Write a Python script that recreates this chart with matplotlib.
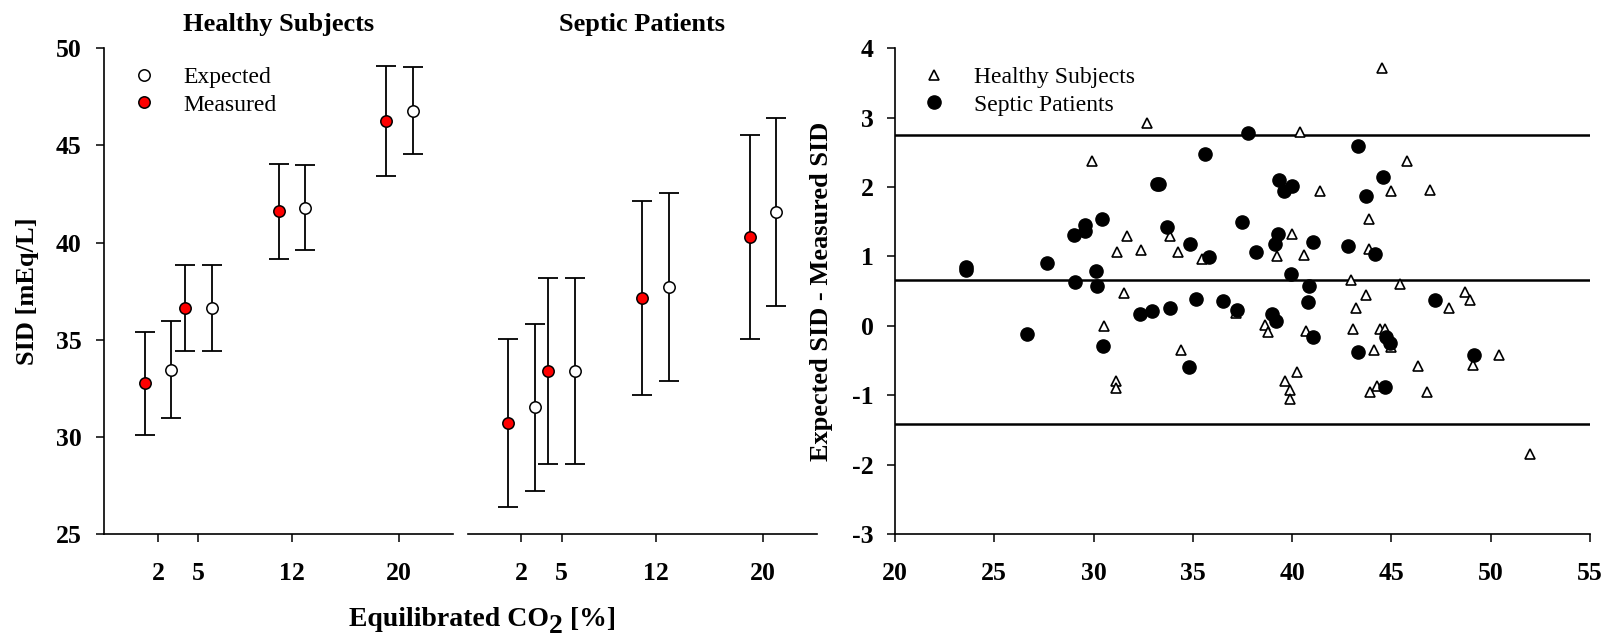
import matplotlib.pyplot as plt
from matplotlib.lines import Line2D

plt.rcParams['font.family'] = ['Liberation Serif', 'DejaVu Serif']

# SID per equilibrated CO2 level (mean, SD)
co2_levels = [2, 5, 12, 20]

healthy_measured = [32.75, 36.63, 41.61, 46.26]
healthy_measured_sd = [2.65, 2.22, 2.43, 2.84]
healthy_expected = [33.46, 36.63, 41.79, 46.79]
healthy_expected_sd = [2.50, 2.22, 2.18, 2.25]

septic_measured = [30.71, 33.39, 37.15, 40.29]
septic_measured_sd = [4.33, 4.80, 5.00, 5.27]
septic_expected = [31.52, 33.39, 37.71, 41.56]
septic_expected_sd = [4.30, 4.80, 4.82, 4.83]

# Bland-Altman: mean SID vs (expected - measured)
healthy_mean = [32.67, 29.93, 31.69, 31.20, 32.38, 33.84, 34.23, 35.48, 31.54, 30.50,
                31.12, 31.12, 34.38, 40.38, 41.42, 40.00, 39.26, 40.62, 42.95, 37.15,
                38.62, 38.79, 40.72, 43.05, 43.20, 40.25, 39.66, 39.91, 39.91, 45.80,
                44.98, 46.94, 43.87, 43.87, 45.43, 43.70, 48.72, 48.95, 47.88, 44.41,
                44.69, 45.00, 44.12, 46.36, 49.12, 50.43, 44.29, 43.91, 46.81, 44.54,
                51.99]
healthy_diff = [2.93, 2.38, 1.29, 1.06, 1.10, 1.29, 1.06, 0.97, 0.47, 0.00,
                -0.79, -0.90, -0.35, 2.80, 1.95, 1.32, 1.00, 1.02, 0.66, 0.18,
                0.01, -0.09, -0.07, -0.04, 0.26, -0.66, -0.79, -0.92, -1.06, 2.37,
                1.94, 1.96, 1.54, 1.11, 0.60, 0.45, 0.49, 0.37, 0.25, -0.05,
                -0.05, -0.30, -0.35, -0.58, -0.57, -0.42, -0.87, -0.96, -0.95, 3.72,
                -1.84]

septic_mean = [23.57, 23.57, 27.63, 29.02, 29.56, 29.56, 30.40, 30.12, 29.06, 30.15,
               33.18, 33.32, 33.72, 34.85, 35.60, 35.80, 32.33, 32.92, 33.84, 35.15,
               26.63, 30.48, 34.80, 37.78, 43.32, 39.33, 39.58, 40.00, 37.45, 38.17,
               39.29, 39.14, 41.05, 42.81, 39.93, 40.85, 36.54, 37.23, 38.99, 39.21,
               40.80, 41.05, 43.30, 44.57, 43.72, 44.16, 47.21, 44.71, 44.91, 49.17,
               44.69]
septic_diff = [0.85, 0.80, 0.91, 1.31, 1.46, 1.37, 1.54, 0.79, 0.63, 0.57,
               2.05, 2.05, 1.42, 1.18, 2.48, 0.99, 0.17, 0.21, 0.25, 0.39,
               -0.12, -0.29, -0.60, 2.78, 2.59, 2.10, 1.95, 2.02, 1.49, 1.06,
               1.33, 1.18, 1.21, 1.15, 0.75, 0.58, 0.36, 0.23, 0.17, 0.07,
               0.34, -0.16, -0.38, 2.14, 1.87, 1.04, 0.37, -0.16, -0.25, -0.42,
               -0.88]

# bias and limits of agreement
agreement_lines = [2.75, 0.66, -1.42]

W, H = 1610, 637
fig = plt.figure(figsize=(W / 100, H / 100), dpi=100)
bottom = (H - 534) / H
height = (534 - 48.3) / H
ax1 = fig.add_axes([104.3 / W, bottom, 348.4 / W, height])
ax2 = fig.add_axes([467.7 / W, bottom, 349.0 / W, height])
ax3 = fig.add_axes([895.0 / W, bottom, 695.0 / W, height])

tick_font = dict(fontsize=18.5, fontweight='bold')
label_font = dict(fontsize=19, fontweight='bold')


def sid_panel(ax, meas, meas_sd, exp, exp_sd, title):
    xm = [c - 1 for c in co2_levels]
    xe = [c + 1 for c in co2_levels]
    eb = dict(fmt='none', ecolor='black', elinewidth=1.3, capsize=7, capthick=1.3, zorder=2)
    ax.errorbar(xm, meas, yerr=meas_sd, **eb)
    ax.errorbar(xe, exp, yerr=exp_sd, **eb)
    ax.plot(xm, meas, 'o', ms=8.2, mfc='#ff0000', mec='black', mew=1.1, ls='none', zorder=3)
    ax.plot(xe, exp, 'o', ms=8.2, mfc='white', mec='black', mew=1.1, ls='none', zorder=3)
    ax.set_xlim(-2, 24)
    ax.set_ylim(25, 50)
    ax.set_xticks(co2_levels, [str(c) for c in co2_levels], **tick_font)
    ax.tick_params(axis='x', direction='out', length=5.5, width=1.1, pad=15)
    ax.set_title(title, pad=12.5, **label_font)
    for s in ['top', 'right']:
        ax.spines[s].set_visible(False)
    for s in ['left', 'bottom']:
        ax.spines[s].set_linewidth(1.2)


sid_panel(ax1, healthy_measured, healthy_measured_sd, healthy_expected, healthy_expected_sd,
          'Healthy Subjects')
sid_panel(ax2, septic_measured, septic_measured_sd, septic_expected, septic_expected_sd,
          'Septic Patients')

ax1.set_yticks(range(25, 51, 5), [str(v) for v in range(25, 51, 5)], **tick_font)
ax1.tick_params(axis='y', direction='out', length=5.5, width=1.1, pad=11)
ax1.set_ylabel('SID [mEq/L]', va='center', **label_font)
ax1.yaxis.set_label_coords((28 - 104.3) / 348.4, 0.5)

ax2.spines['left'].set_visible(False)
ax2.tick_params(axis='y', left=False, labelleft=False)

handles = [
    Line2D([], [], marker='o', ls='none', ms=8.2, mfc='white', mec='black', mew=1.1),
    Line2D([], [], marker='o', ls='none', ms=8.2, mfc='#ff0000', mec='black', mew=1.1),
]
ax1.legend(handles, ['Expected', 'Measured'], loc='upper left', bbox_to_anchor=(0.08, 0.962),
           frameon=False, prop=dict(size=17), handlelength=1.0, handletextpad=1.15,
           labelspacing=0.25, borderpad=0, borderaxespad=0)

# x label with a full-size lowered subscript
xl_font = dict(fontsize=20, fontweight='bold')
y0 = (H - 626) / H
t1 = fig.text(349 / W, y0, 'Equilibrated CO', ha='left', va='baseline', **xl_font)
t2 = ax1.annotate('2', xy=(1, 0), xycoords=t1, xytext=(0, -5), textcoords='offset points',
                  ha='left', va='bottom', **xl_font)
ax1.annotate(' [%]', xy=(1, 0), xycoords=t2, xytext=(0, 5), textcoords='offset points',
             ha='left', va='bottom', **xl_font)

# Bland-Altman panel
ax3.plot(healthy_mean, healthy_diff, '^', ms=7.5, mfc='white', mec='black', mew=1.2,
         ls='none', label='Healthy Subjects', zorder=3)
ax3.plot(septic_mean, septic_diff, 'o', ms=9.5, mfc='black', mec='black',
         ls='none', label='Septic Patients', zorder=4)
for v in agreement_lines:
    ax3.axhline(v, color='black', lw=1.8, zorder=2)
ax3.set_xlim(20, 55)
ax3.set_ylim(-3, 4)
ax3.set_xticks(range(20, 56, 5), [str(v) for v in range(20, 56, 5)], **tick_font)
ax3.set_yticks(range(-3, 5), [str(v) for v in range(-3, 5)], **tick_font)
ax3.tick_params(axis='x', direction='out', length=5.5, width=1.1, pad=15)
ax3.tick_params(axis='y', direction='out', length=5.5, width=1.1, pad=10)
for s in ['top', 'right']:
    ax3.spines[s].set_visible(False)
for s in ['left', 'bottom']:
    ax3.spines[s].set_linewidth(1.2)
ax3.set_ylabel('Expected SID - Measured SID', va='center', **label_font)
ax3.yaxis.set_label_coords((821 - 895) / 695, 0.5)
ax3.legend(loc='upper left', bbox_to_anchor=(0.039, 0.962), frameon=False,
           prop=dict(size=17), handlelength=1.0, handletextpad=1.2,
           labelspacing=0.25, borderpad=0, borderaxespad=0)

fig.savefig('out.png', dpi=100)
